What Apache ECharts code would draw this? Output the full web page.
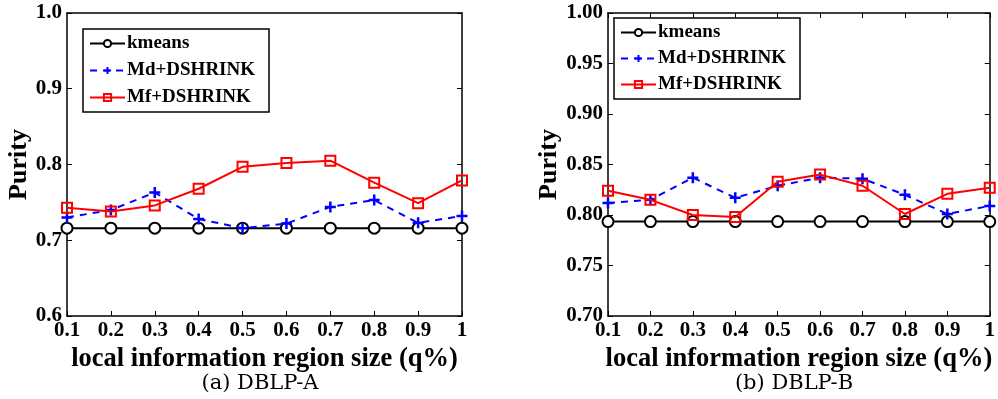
<!DOCTYPE html>
<html>
<head>
<meta charset="utf-8">
<script src="https://cdn.jsdelivr.net/npm/echarts@6/dist/echarts.min.js"></script>
<style>
html,body{margin:0;padding:0;background:#fff}
#main{width:998px;height:399px}
</style>
</head>
<body>
<div id="main"></div>
<script>
// x categories (q%)
var qSize=['0.1','0.2','0.3','0.4','0.5','0.6','0.7','0.8','0.9','1']

// (a) DBLP-A
var kmeansA=[0.716,0.716,0.716,0.716,0.716,0.716,0.716,0.716,0.716,0.716]
var mdA=[0.730,0.740,0.763,0.728,0.716,0.722,0.744,0.753,0.723,0.732]
var mfA=[0.743,0.738,0.746,0.768,0.797,0.802,0.805,0.776,0.749,0.779]

// (b) DBLP-B
var kmeansB=[0.7935,0.7935,0.7935,0.7935,0.7935,0.7935,0.7935,0.7935,0.7935,0.7935]
var mdB=[0.812,0.815,0.837,0.817,0.829,0.837,0.836,0.820,0.801,0.809]
var mfB=[0.824,0.815,0.800,0.798,0.833,0.840,0.829,0.801,0.821,0.827]

var names=['kmeans','Md+DSHRINK','Mf+DSHRINK']
var FONT='"Liberation Serif", "DejaVu Serif", serif'
var plus='path://M0,-10 L0,10 M-10,0 L10,0'

function xAx(gi,top,ticks){
    return {
        type:'category',gridIndex:gi,data:qSize,boundaryGap:false,
        position:top?'top':'bottom',
        axisLine:{lineStyle:{color:'#000',width:1.5}},
        axisTick:{show:ticks,inside:true,length:5,alignWithLabel:true,lineStyle:{color:'#000',width:1}},
        axisLabel:{show:!top,color:'#000',fontFamily:FONT,fontWeight:'bold',fontSize:21,margin:4},
        splitLine:{show:false},
        name:top?'':'local information region size (q%)',
        nameLocation:'middle',nameGap:20,
        nameTextStyle:{color:'#000',fontFamily:FONT,fontWeight:'bold',fontSize:26.5}
    }
}
function yAx(gi,right,min,step,dig){
    return {
        type:'value',gridIndex:gi,min:min,max:1,interval:step,
        position:right?'right':'left',
        axisLine:{show:true,lineStyle:{color:'#000',width:1.5}},
        axisTick:{show:true,inside:true,length:5,lineStyle:{color:'#000',width:1}},
        axisLabel:{show:!right,color:'#000',fontFamily:FONT,fontWeight:'bold',fontSize:21,margin:5,
            formatter:function(v){return v.toFixed(dig)}},
        splitLine:{show:false},
        name:right?'':'Purity',nameLocation:'middle',nameGap:right?0:(dig==1?31:45),nameRotate:90,
        nameTextStyle:{color:'#000',fontFamily:FONT,fontWeight:'bold',fontSize:26}
    }
}
function mkSeries(xi,yi,k,md,mf){
    return [
        {name:names[0],type:'line',xAxisIndex:xi,yAxisIndex:yi,data:k,symbol:'circle',symbolSize:11,
            lineStyle:{color:'#000',width:2},itemStyle:{color:'#fff',borderColor:'#000',borderWidth:2},color:'#000',z:3},
        {name:names[1],type:'line',xAxisIndex:xi,yAxisIndex:yi,data:md,symbol:plus,symbolSize:11,
            lineStyle:{color:'#0000ff',width:2,type:[7,6]},itemStyle:{color:'none',borderColor:'#0000ff',borderWidth:2.5},color:'#0000ff',z:4},
        {name:names[2],type:'line',xAxisIndex:xi,yAxisIndex:yi,data:mf,symbol:'rect',symbolSize:10,
            lineStyle:{color:'#ff0000',width:2},itemStyle:{color:'none',borderColor:'#ff0000',borderWidth:2},color:'#ff0000',z:5}
    ]
}
function legend(left,top,gap){
    return {
        data:names,orient:'vertical',left:left,top:top,itemGap:gap,itemWidth:35,itemHeight:9,
        padding:[5,14,5,6],borderColor:'#000',borderWidth:1.5,backgroundColor:'#fff',
        selectedMode:false,
        textStyle:{color:'#000',fontFamily:FONT,fontWeight:'bold',fontSize:19,padding:[0,0,0,-3],lineHeight:16}
    }
}

var chart=echarts.init(document.getElementById('main'),null,{renderer:'canvas'})
chart.setOption({
    animation:false,
    backgroundColor:'#fff',
    grid:[
        {left:67,width:395,top:13,height:303},
        {left:608,width:389,top:13,height:303}
    ],
    xAxis:[xAx(0,false,true),xAx(0,true,false),xAx(1,false,true),xAx(1,true,true)],
    yAxis:[yAx(0,false,0.6,0.1,1),yAx(0,true,0.6,0.1,1),yAx(1,false,0.7,0.05,2),yAx(1,true,0.7,0.05,2)],
    legend:[legend(83,29,8),legend(614,18,7)],
    title:[
        {text:'(a) DBLP-A',left:255,top:368,textAlign:'center',
            textStyle:{color:'#000',fontFamily:'"DejaVu Serif", serif',fontWeight:'normal',fontSize:21}},
        {text:'(b) DBLP-B',left:789,top:368,textAlign:'center',
            textStyle:{color:'#000',fontFamily:'"DejaVu Serif", serif',fontWeight:'normal',fontSize:21}}
    ],
    series:mkSeries(0,0,kmeansA,mdA,mfA).concat(mkSeries(2,2,kmeansB,mdB,mfB))
})
</script>
</body>
</html>
